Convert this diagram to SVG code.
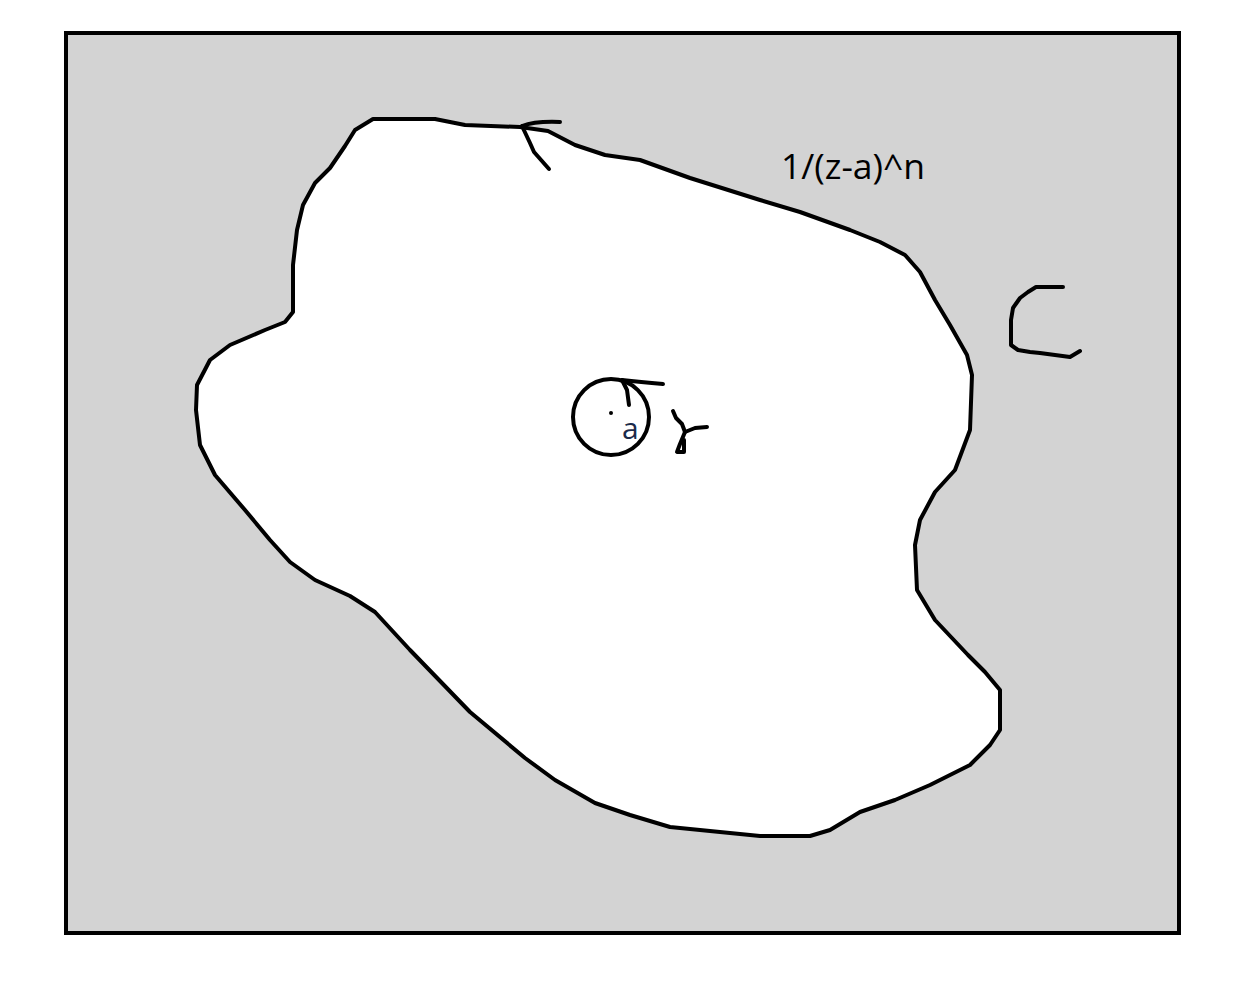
<svg xmlns="http://www.w3.org/2000/svg" width="1236" height="983" viewBox="0 0 1236 983">
<style>
.ln{fill:none;stroke:#000;stroke-width:4;stroke-linecap:round;stroke-linejoin:round}
.t{font-family:"Open Sans","Noto Sans",sans-serif}
</style>
<rect width="1236" height="983" fill="#fff"/>
<g id="frame"><rect x="66" y="33" width="1113" height="900" fill="#d3d3d3" stroke="#000" stroke-width="4"/></g>
<g id="region">
<path class="ln" style="fill:#fff" d="M373,119 L435,119 L465,125 L520,127 L548,131 L575,145 L605,155 L640,160 L690,178 L760,200 L800,212 L850,230 L880,242 L905,255 L920,272 L935,300 L950,325 L967,355 L972,375 L970,430 L955,470 L935,492 L920,520 L915,545 L917,590 L935,620 L968,655 L985,672 L1000,690 L1000,730 L990,745 L970,765 L930,785 L895,800 L860,812 L830,830 L810,836 L760,836 L720,832 L670,827 L630,815 L595,803 L555,780 L525,758 L470,712 L410,650 L375,612 L350,596 L315,580 L290,562 L270,540 L245,510 L215,475 L200,445 L196,410 L197,385 L210,360 L230,345 L265,330 L285,322 L293,312 L293,265 L297,230 L303,205 L315,183 L330,168 L345,146 L355,130 Z"/>
</g>
<g id="connectors">
<path class="ln" d="M522,126 Q535,121 560,122"/>
<path class="ln" d="M522,126 L530,143 L534,152 L549,169"/>
<path class="ln" d="M622,380 Q640,382 663,384"/>
<path class="ln" d="M622,380 L627,390 L629,405"/>
</g>
<g id="point-a">
<circle class="ln" cx="611" cy="417" r="38"/>
<circle cx="611" cy="413" r="2" fill="#000"/>
<text class="t" x="622" y="439" font-size="30" fill="#1c2a4a">a</text>
</g>
<g id="gamma">
<path class="ln" d="M673,411 L676,418 L682,424 L685,432 L695,428 L707,427"/>
<path class="ln" d="M685,432 L680,444 L677,452 L684,452 L684,440"/>
</g>
<g id="label-fn"><text class="t" x="781" y="179" font-size="35.5" fill="#000">1/(z-a)^n</text></g>
<g id="label-C">
<path class="ln" d="M1063,287 L1036,287 L1028,292 L1020,298 L1013,308 L1011,320 L1011,345 L1018,350 L1030,352 L1040,353 L1055,355 L1070,357 L1080,351"/>
</g>
</svg>
